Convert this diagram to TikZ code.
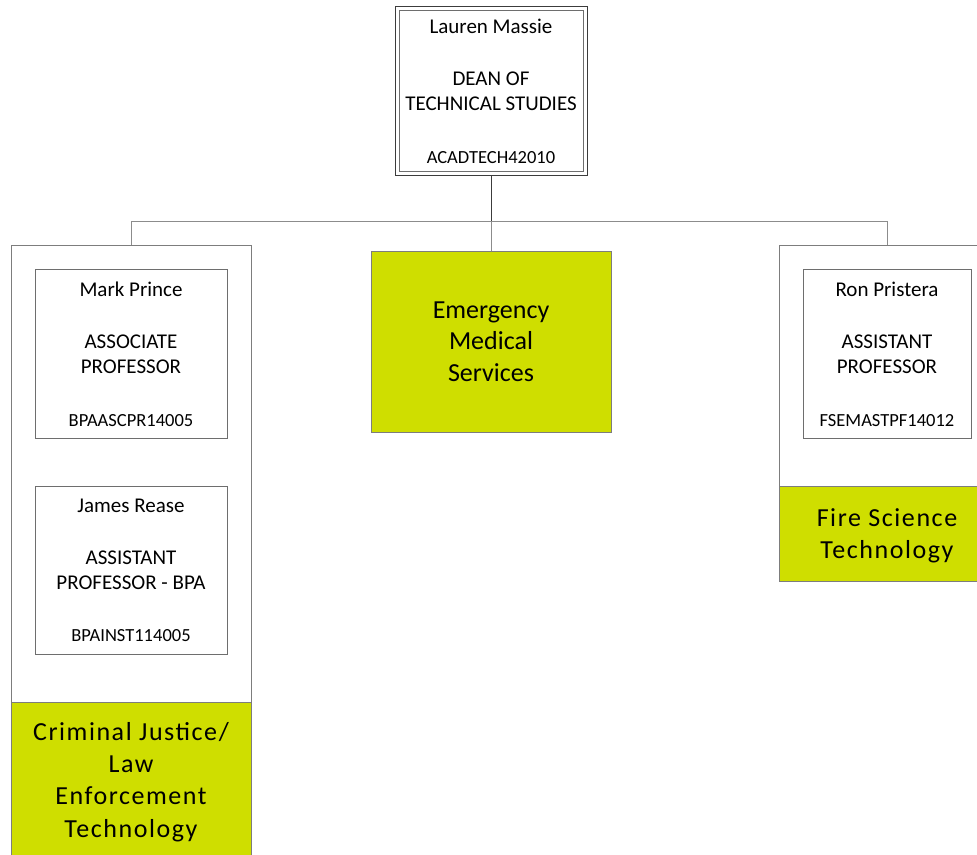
\documentclass[tikz,border=0pt]{standalone}
\usepackage{fontspec}
\setmainfont{Carlito}
\definecolor{grn}{RGB}{207,222,0}
\definecolor{boxline}{RGB}{110,110,110}
\definecolor{panelline}{RGB}{125,125,125}
\definecolor{busline}{RGB}{140,140,140}
\definecolor{darkline}{RGB}{60,60,60}
\tikzset{
  panel/.style={draw=panelline, line width=1pt, fill=white, rectangle, inner sep=0pt},
  greenbox/.style={draw=panelline, line width=1pt, fill=grn, rectangle, inner sep=0pt},
  person/.style={draw=boxline, line width=1pt, fill=white, rectangle, inner sep=0pt, minimum height=169pt},
  nametxt/.style={anchor=base, inner sep=0pt, font=\fontsize{21}{25.6}\selectfont},
  codetxt/.style={anchor=base, inner sep=0pt, font=\fontsize{18.5}{22}\selectfont},
  bigtxt/.style={align=center, inner sep=0pt, font=\fontsize{26}{31.7}\selectfont},
  widetxt/.style={align=center, inner sep=0pt, font=\fontsize{26}{32.3}\selectfont\addfontfeatures{LetterSpace=6}},
}
\begin{document}
\begin{tikzpicture}[x=1pt,y=-1pt]
\path[use as bounding box, clip] (0,0) rectangle (977,854);

% panels
\node[panel, minimum width=240pt, minimum height=612pt] (left) at (131,551) {};
\node[greenbox, minimum width=240pt, minimum height=155pt] (leftg) at (131,779.5) {};
\node[panel, minimum width=216pt, minimum height=336pt] (right) at (887,413) {};
\node[greenbox, minimum width=216pt, minimum height=95pt] (rightg) at (887,533.5) {};
\node[greenbox, minimum width=240pt, minimum height=181pt] (ems) at (491,341.5) {};

% dean box (double border)
\node[person, draw=darkline, minimum width=192pt] (dean) at (491,90.5) {};
\node[draw=boxline, line width=1pt, rectangle, inner sep=0pt, minimum width=184pt, minimum height=161pt] (deaninner) at (491,90.5) {};

% person boxes
\node[person, minimum width=192pt] (mark) at (131,353.5) {};
\node[person, minimum width=192pt, minimum height=168pt] (james) at (131,570) {};
\node[person, minimum width=168pt] (ron) at (887,353.5) {};

% connectors
\coordinate (bus) at (491,221);
\draw[darkline, line width=1pt] (dean.south) -- (bus);
\draw[busline, line width=1pt] (bus) -- (ems.north);
\draw[busline, line width=1pt] (left.north) -- (left.north |- bus) -- (right.north |- bus) -- (right.north);

% dean text
\node[nametxt] (t1) at (491,33) {Lauren Massie};
\node[nametxt] (t2) at (491,85) {DEAN OF};
\node[nametxt] (t3) at (491,110) {TECHNICAL STUDIES};
\node[codetxt] (t4) at (491,163) {ACADTECH42010};

% Mark Prince
\node[nametxt] (m1) at (131,296) {Mark Prince};
\node[nametxt] (m2) at (131,348) {ASSOCIATE};
\node[nametxt] (m3) at (131,373) {PROFESSOR};
\node[codetxt] (m4) at (131,426) {BPAASCPR14005};

% James Rease
\node[nametxt] (j1) at (131,512) {James Rease};
\node[nametxt] (j2) at (131,564) {ASSISTANT};
\node[nametxt] (j3) at (131,589) {PROFESSOR - BPA};
\node[codetxt] (j4) at (131,641) {BPAINST114005};

% Ron Pristera
\node[nametxt] (r1) at (887,296) {Ron Pristera};
\node[nametxt] (r2) at (887,348) {ASSISTANT};
\node[nametxt] (r3) at (887,373) {PROFESSOR};
\node[codetxt] (r4) at (887,426) {FSEMASTPF14012};

% green labels
\node[bigtxt] (emst) at (ems.center) {Emergency\\Medical\\Services};
\node[widetxt] (fst) at (887,535.5) {Fire Science\\Technology};
\node[widetxt] (cjt) at (131,782) {Criminal Justice/\\Law\\Enforcement\\Technology};
\end{tikzpicture}
\end{document}
